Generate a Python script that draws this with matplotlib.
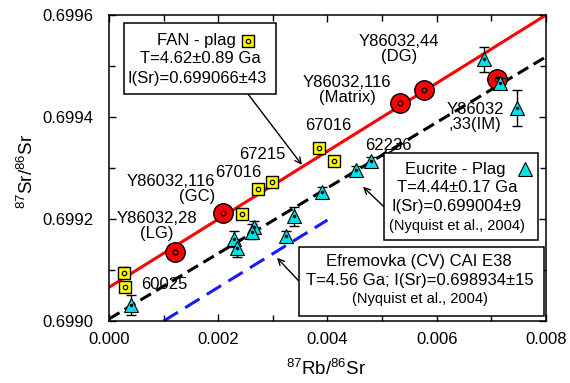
"""
Rb-Sr изохронная диаграмма: FAN plag, эвкриты, Y86032, Efremovka CAI.
Сохраняет картинку в out.png.
"""

import matplotlib

matplotlib.use("Agg")
import matplotlib.pyplot as plt
from matplotlib.patches import Rectangle
from matplotlib.ticker import MultipleLocator, FormatStrFormatter

plt.rcParams["font.family"] = ["Liberation Sans", "DejaVu Sans"]
plt.rcParams["mathtext.fontset"] = "custom"
plt.rcParams["mathtext.rm"] = "Liberation Sans"
plt.rcParams["mathtext.it"] = "Liberation Sans:italic"

# Данные

# FAN plag (жёлтые квадраты)
fan_x = [0.00027, 0.00030, 0.00243, 0.00272, 0.00299, 0.00385, 0.00412]
fan_y = [0.699095, 0.699067, 0.699209, 0.699259, 0.699272, 0.699340, 0.699314]
fan_err = [0.000010, 0.000010, 0.000008, 0.000006, 0.000006, 0.000006, 0.000006]

# Эвкриты plag (голубые треугольники)
euc_x = [0.00040, 0.00229, 0.00234, 0.00266, 0.00261, 0.00324, 0.00339,
         0.00390, 0.00452, 0.00479, 0.00687, 0.00715, 0.00747]
euc_y = [0.699031, 0.699161, 0.699143, 0.699185, 0.699175, 0.699167, 0.699205,
         0.699252, 0.699296, 0.699314, 0.699513, 0.699466, 0.699417]
euc_err = [0.000020, 0.000015, 0.000018, 0.000012, 0.000015, 0.000010, 0.000018,
           0.000010, 0.000008, 0.000008, 0.000025, 0.000010, 0.000035]

# Y86032 (красные круги)
y86_x = [0.00121, 0.00209, 0.00532, 0.00576, 0.00711]
y86_y = [0.699135, 0.699212, 0.699428, 0.699452, 0.699475]

# Изохроны (концы отрезков)
fan_line_x = [0.0, 0.008]
fan_line_y = [0.699066, 0.699600]
euc_line_x = [0.0, 0.008]
euc_line_y = [0.699004, 0.699518]
efr_line_x = [0.001, 0.004]
efr_line_y = [0.699000, 0.699198]

FS = 12
FS_SMALL = 10.5

fig = plt.figure(figsize=(5.7, 3.83), dpi=100)
ax = fig.add_axes([0.1912, 0.1619, 0.7667, 0.799])

# линии
ax.plot(fan_line_x, fan_line_y, color="#ff0000", lw=2.2, zorder=2)
ax.plot(euc_line_x, euc_line_y, color="black", lw=2.2, dashes=[4, 2], zorder=2)
ax.plot(efr_line_x, efr_line_y, color="#1a1aff", lw=2.2, dashes=[5.5, 2.8], zorder=2)

# точки
ax.plot(y86_x, y86_y, "o", ms=14, mfc="#ff0000", mec="black", mew=1.0, zorder=4)
ax.plot(y86_x, y86_y, "o", ms=3.5, mfc="none", mec="black", mew=0.9, zorder=4.1)

ax.errorbar(fan_x, fan_y, yerr=fan_err, fmt="none", ecolor="black",
            elinewidth=1, capsize=3, zorder=4.5)
ax.plot(fan_x, fan_y, "s", ms=8.5, mfc="#ffff00", mec="black", mew=1.0, zorder=5)
ax.plot(fan_x, fan_y, "o", ms=3.2, mfc="none", mec="black", mew=0.9, zorder=5.1)

ax.errorbar(euc_x, euc_y, yerr=euc_err, fmt="none", ecolor="black",
            elinewidth=1, capsize=3.5, zorder=5.5)
ax.plot(euc_x, euc_y, "^", ms=10, mfc="#00e0e8", mec="black", mew=0.8, zorder=6)
ax.plot(euc_x, euc_y, "o", ms=1.5, mfc="black", mec="black", zorder=6.1)

# подписи образцов
labels = [
    ("Y86032,44\n(DG)", 0.00531, 0.699533, "center"),
    ("Y86032,116\n(Matrix)", 0.004357, 0.699453, "center"),
    ("Y86032\n,33(IM)", 0.00670, 0.699400, "center"),
    ("67016", 0.004009, 0.699384, "center"),
    ("62236", 0.005108, 0.699345, "center"),
    ("67215", 0.00280, 0.699327, "center"),
    ("67016", 0.002362, 0.699292, "center"),
    ("Y86032,116\n(GC)", 0.00194, 0.699259, "right"),
    ("Y86032,28\n(LG)", 0.000879, 0.699186, "center"),
    ("60025", 0.001007, 0.699071, "center"),
]
for text, tx, ty, ha in labels:
    ax.text(tx, ty, text, ha=ha, va="center", ma=ha, fontsize=FS,
            linespacing=1.0, zorder=7)

# стрелки
arrows = [
    ((0.002545, 0.699445), (0.003533, 0.699306)),
    ((0.005034, 0.699224), (0.004650, 0.699263)),
    ((0.005272, 0.699339), (0.004980, 0.699322)),
    ((0.003478, 0.699078), (0.003076, 0.699124)),
]
for start, end in arrows:
    ax.annotate("", xy=end, xytext=start,
                arrowprops=dict(arrowstyle="->", color="black", lw=1.0,
                                shrinkA=0, shrinkB=0, mutation_scale=11),
                zorder=7)

# рамки с текстом
def draw_box(x0, y0, x1, y1):
    ax.add_patch(Rectangle((x0, y0), x1 - x0, y1 - y0, facecolor="white",
                           edgecolor="black", lw=1.1, zorder=8))

draw_box(0.000275, 0.699445, 0.003057, 0.699584)
ax.text(0.001593, 0.699549, "FAN - plag", ha="center", va="center", fontsize=FS, zorder=9)
ax.plot([0.002545], [0.699549], "s", ms=8.5, mfc="#ffff00", mec="black", mew=1.0, zorder=9)
ax.plot([0.002545], [0.699549], "o", ms=3.2, mfc="none", mec="black", mew=0.9, zorder=9.1)
ax.text(0.001666, 0.699514, "T=4.62±0.89 Ga", ha="center", va="center", fontsize=FS, zorder=9)
ax.text(0.001611, 0.699476, "I(Sr)=0.699066±43", ha="center", va="center", fontsize=FS, zorder=9)

draw_box(0.005034, 0.699159, 0.007854, 0.699329)
ax.text(0.006343, 0.699298, "Eucrite - Plag", ha="center", va="center", fontsize=FS, zorder=9)
ax.plot([0.007616], [0.699298], "^", ms=10, mfc="#00e0e8", mec="black", mew=0.8, zorder=9)
ax.text(0.006371, 0.699261, "T=4.44±0.17 Ga", ha="center", va="center", fontsize=FS, zorder=9)
ax.text(0.006371, 0.699225, "I(Sr)=0.699004±9", ha="center", va="center", fontsize=FS, zorder=9)
ax.text(0.006371, 0.699186, "(Nyquist et al., 2004)", ha="center", va="center",
        fontsize=FS_SMALL, zorder=9)

draw_box(0.003478, 0.699010, 0.007963, 0.699145)
ax.text(0.005675, 0.699116, "Efremovka (CV) CAI E38", ha="center", va="center", fontsize=FS, zorder=9)
ax.text(0.005684, 0.699080, "T=4.56 Ga; I(Sr)=0.698934±15", ha="center", va="center",
        fontsize=FS, zorder=9)
ax.text(0.005693, 0.699043, "(Nyquist et al., 2004)", ha="center", va="center",
        fontsize=FS_SMALL, zorder=9)

# оси
ax.set_xlim(0.0, 0.008)
ax.set_ylim(0.6990, 0.6996)
ax.xaxis.set_major_locator(MultipleLocator(0.002))
ax.xaxis.set_minor_locator(MultipleLocator(0.001))
ax.yaxis.set_major_locator(MultipleLocator(0.0002))
ax.yaxis.set_minor_locator(MultipleLocator(0.0001))
ax.xaxis.set_major_formatter(FormatStrFormatter("%.3f"))
ax.yaxis.set_major_formatter(FormatStrFormatter("%.4f"))
ax.tick_params(which="both", direction="in", top=True, right=True, width=1.0)
ax.tick_params(which="major", length=5)
ax.tick_params(which="minor", length=4.5)
ax.tick_params(axis="x", which="major", pad=8, labelsize=FS)
ax.tick_params(axis="y", which="major", pad=11, labelsize=FS)
for sp in ax.spines.values():
    sp.set_linewidth(1.1)

fig.text(0.572, 0.036, "$^{87}$Rb/$^{86}$Sr", ha="center", va="center", fontsize=13.5)
fig.text(0.047, 0.551, "$^{87}$Sr/$^{86}$Sr", ha="center", va="center", fontsize=13.5,
         rotation=90)

fig.savefig("out.png", dpi=100)
